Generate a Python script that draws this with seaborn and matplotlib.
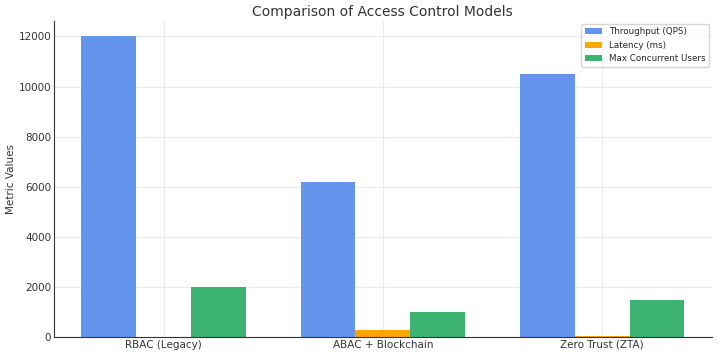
import seaborn as sns
import pandas as pd
import matplotlib.pyplot as plt

models = ["RBAC (Legacy)", "ABAC + Blockchain", "Zero Trust (ZTA)"]
throughput = [12000, 6200, 10500]
latency = [15, 300, 50]
max_users = [2000, 1000, 1500]
metrics = ["Throughput (QPS)", "Latency (ms)", "Max Concurrent Users"]
colors = ["#6495ED", "#FFA500", "#3CB371"]

rows = []
for name, vals in zip(metrics, [throughput, latency, max_users]):
    for m, v in zip(models, vals):
        rows.append({"Model": m, "Metric": name, "Value": v})
data = pd.DataFrame(rows)

sns.set_style("whitegrid", {"grid.color": "#ebebeb", "axes.edgecolor": "#333333"})
plt.rcParams['font.family'] = ['DejaVu Sans']
fig, ax = plt.subplots(figsize=(7.19, 3.56), dpi=100)
sns.barplot(data=data, x="Model", y="Value", hue="Metric", palette=colors,
            width=0.75, saturation=1, linewidth=0, ax=ax)
for s in ["top", "right"]:
    ax.spines[s].set_visible(False)
ax.grid(True, axis="both", color="#ebebeb", linewidth=0.8)
ax.set_axisbelow(True)
ax.set_title("Comparison of Access Control Models", fontsize=10, color="#333333", pad=4)
ax.set_xlabel("")
ax.set_ylabel("Metric Values", fontsize=7.5, color="#333333", labelpad=2)
ax.tick_params(labelsize=7.5, colors="#333333", length=3, direction="in", pad=2)
ax.legend(fontsize=6.3, loc="upper right", borderaxespad=0.3)
fig.subplots_adjust(left=0.075, right=0.99, top=0.94, bottom=0.053)
fig.savefig("out.png", dpi=100)
